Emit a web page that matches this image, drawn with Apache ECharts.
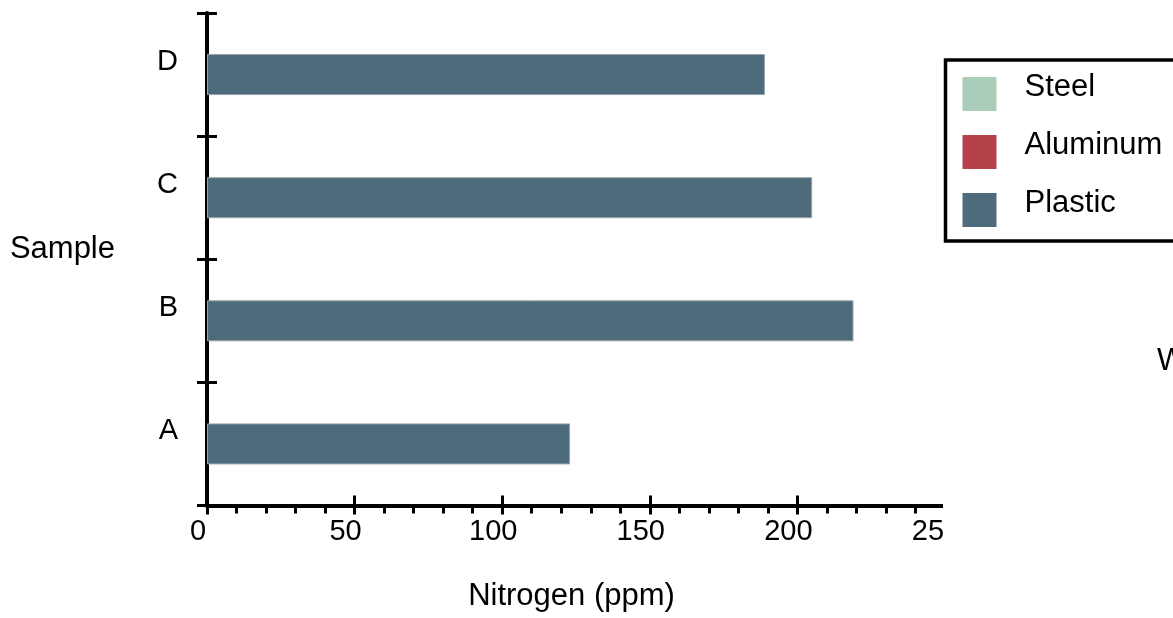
<!DOCTYPE html>
<html>
<head>
<meta charset="utf-8">
<script src="https://cdn.jsdelivr.net/npm/echarts@6/dist/echarts.min.js"></script>
<style>
  html, body { margin: 0; padding: 0; background: #fff; }
  #chart { width: 1173px; height: 618px; }
</style>
</head>
<body>
<div id="chart"></div>
<script>
// Nitrogen content per sample, grouped by container material
const samples = ['A', 'B', 'C', 'D'];
const steel = [];
const aluminum = [];
const plastic = [123, 219, 205, 189];
const xTicks = [0, 50, 100, 150, 200, 250];

const FONT = '"Liberation Sans", Arial, Helvetica, sans-serif';
const chart = echarts.init(document.getElementById('chart'), null, { renderer: 'canvas' });

const xBase = {
  type: 'value',
  min: xTicks[0],
  max: xTicks[xTicks.length - 1],
  interval: xTicks[1] - xTicks[0],
  splitLine: { show: false },
  position: 'bottom'
};
const yBase = {
  type: 'category',
  data: samples,
  position: 'left',
  splitLine: { show: false }
};

chart.setOption({
  animation: false,
  backgroundColor: '#ffffff',
  textStyle: { fontFamily: FONT },
  grid: { left: 207, right: 228, top: 13, bottom: 112.5, containLabel: false },
  legend: {
    orient: 'vertical',
    left: 945.5,
    top: 60,
    padding: [3, 60, 14, 17],
    itemWidth: 34,
    itemHeight: 48,
    itemGap: 10,
    // square swatch sitting in the lower part of a taller icon box,
    // so each name reads slightly above its swatch
    icon: 'path://M0,0L34,0M0,14L34,14L34,48L0,48Z',
    itemStyle: { borderWidth: 0 },
    selectedMode: false,
    backgroundColor: '#ffffff',
    borderColor: '#000000',
    borderWidth: 3.5,
    textStyle: { fontSize: 31, color: '#000', fontFamily: FONT, padding: [0, 0, 0, 23] },
    data: ['Steel', 'Aluminum', 'Plastic']
  },
  xAxis: [
    Object.assign({}, xBase, {
      name: 'Nitrogen (ppm)',
      nameLocation: 'middle',
      nameGap: 75,
      nameTextStyle: { fontSize: 31, color: '#000', fontFamily: FONT, padding: [0, 9, 0, 0] },
      axisLine: { show: true, lineStyle: { color: '#000', width: 4 } },
      axisTick: { show: true, inside: false, length: 9, lineStyle: { color: '#000', width: 3 } },
      minorTick: { show: true, splitNumber: 5, length: 8, lineStyle: { color: '#000', width: 3 } },
      minorSplitLine: { show: false },
      axisLabel: { show: true, margin: 12, fontSize: 29, color: '#000', fontFamily: FONT,
        padding: [0, 18, 0, 0] }
    }),
    Object.assign({}, xBase, {
      axisLine: { show: false },
      axisTick: { show: true, inside: true, length: 10, lineStyle: { color: '#000', width: 3 } },
      axisLabel: { show: false }
    })
  ],
  yAxis: [
    Object.assign({}, yBase, {
      name: 'Sample',
      nameLocation: 'middle',
      nameRotate: 0,
      nameGap: 92,
      nameTextStyle: { fontSize: 31, color: '#000', fontFamily: FONT,
        verticalAlign: 'bottom', lineHeight: 20 },
      axisLine: { show: true, lineStyle: { color: '#000', width: 4 } },
      axisTick: { show: true, inside: false, length: 10, lineStyle: { color: '#000', width: 3 } },
      axisLabel: { show: true, margin: 29, fontSize: 29, color: '#000', fontFamily: FONT,
        verticalAlign: 'bottom', lineHeight: 26 }
    }),
    Object.assign({}, yBase, {
      axisLine: { show: false },
      axisTick: { show: true, inside: true, length: 10, lineStyle: { color: '#000', width: 3 } },
      axisLabel: { show: false }
    })
  ],
  series: [
    { name: 'Steel', type: 'bar', stack: 'material', data: steel, barWidth: 41,
      itemStyle: { color: '#a9cdb8' } },
    { name: 'Aluminum', type: 'bar', stack: 'material', data: aluminum, barWidth: 41,
      itemStyle: { color: '#b5424a' } },
    { name: 'Plastic', type: 'bar', stack: 'material', data: plastic, barWidth: 41,
      itemStyle: { color: '#4e6b7b', borderColor: '#98a3a8', borderWidth: 1 } }
  ],
  graphic: [
    // right edge of the page cuts through the axis end and last tick label
    { type: 'rect', z: 100, shape: { x: 943, y: 488, width: 230, height: 64 }, style: { fill: '#ffffff' } },
    { type: 'text', z: 100, left: 1157, top: 346,
      style: { text: 'W', fontSize: 31, fill: '#000', fontFamily: FONT } }
  ]
});
</script>
</body>
</html>
